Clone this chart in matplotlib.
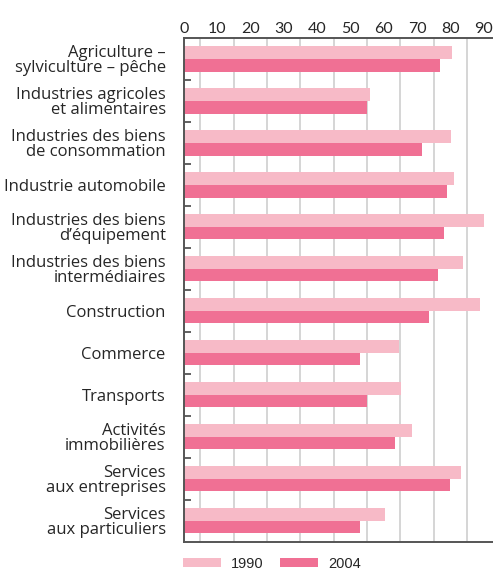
import matplotlib
matplotlib.use("Agg")
import matplotlib.pyplot as plt
import numpy as np

categories = [
    "Agriculture –\nsylviculture – pêche",
    "Industries agricoles\net alimentaires",
    "Industries des biens\nde consommation",
    "Industrie automobile",
    "Industries des biens\nd’équipement",
    "Industries des biens\nintermédiaires",
    "Construction",
    "Commerce",
    "Transports",
    "Activités\nimmobilières",
    "Services\naux entreprises",
    "Services\naux particuliers",
]
values_1990 = [80.5, 55.9, 80.2, 81.1, 90.1, 83.8, 88.9, 64.7, 65.2, 68.5, 83.2, 60.4]
values_2004 = [76.9, 55.0, 71.5, 79.0, 78.1, 76.3, 73.6, 52.9, 55.0, 63.4, 79.9, 52.9]
series_labels = ["1990", "2004"]
tick_values = [0, 10, 20, 30, 40, 50, 60, 70, 80, 90]

c1990 = "#F7BAC7"
c2004 = "#F07094"
txt = "#262626"
spine_c = "#555555"

fig = plt.figure(figsize=(4.93, 5.72), dpi=100)
ax = fig.add_axes([183.8 / 493, 1 - 541.7 / 572, 1 - 183.8 / 493, (541.7 - 38) / 572])

y = np.arange(len(categories))
h = 0.3
ax.barh(y - h / 2, values_1990, height=h, color=c1990, label=series_labels[0], zorder=2)
ax.barh(y + h / 2, values_2004, height=h, color=c2004, label=series_labels[1], zorder=2)

ax.set_xlim(0, 92.8)
ax.set_ylim(len(categories) - 0.5, -0.5)

# gridlines at half-decades
for g in np.arange(5, 90, 10):
    ax.axvline(g, color="#d2d2d2", lw=1.3, zorder=1)

ax.xaxis.tick_top()
ax.set_xticks(tick_values)
ax.set_xticklabels([str(t) for t in tick_values], fontsize=11.5, color=txt, family="Lato")
ax.tick_params(axis="x", length=0, pad=1.5)

ax.set_yticks(y)
ax.set_yticklabels(categories, fontsize=12, color=txt, family="Open Sans", linespacing=0.92)
ax.tick_params(axis="y", which="major", length=0, pad=13)
ax.set_yticks(np.arange(0.5, len(categories) - 1, 1), minor=True)
ax.tick_params(axis="y", which="minor", length=5, width=1.3, direction="in", color=spine_c)

for s in ["left", "top", "bottom"]:
    ax.spines[s].set_color(spine_c)
    ax.spines[s].set_linewidth(1.4)
    ax.spines[s].set_zorder(3)
ax.spines["right"].set_visible(False)

leg = fig.legend(loc="lower left", bbox_to_anchor=(170 / 493, -0.021), ncol=2, frameon=False,
                 prop={"family": "Liberation Sans", "size": 10.5}, handlelength=2.6, handleheight=0.55,
                 columnspacing=1.1, handletextpad=0.7)
for t in leg.get_texts():
    t.set_color(txt)

fig.savefig("out.png", dpi=100)
